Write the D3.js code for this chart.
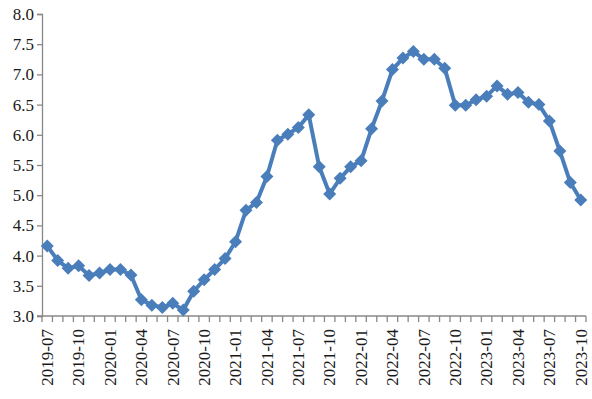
<!DOCTYPE html>
<html><head><meta charset="utf-8">
<script src="https://cdn.jsdelivr.net/npm/d3@7"></script>
<style>body{margin:0;background:#fff}svg{display:block}</style>
</head><body>
<script>
const months = [];
(function(){let y=2019,m=7;for(let i=0;i<52;i++){months.push(y+"-"+String(m).padStart(2,"0"));m++;if(m>12){m=1;y++;}}})();
const values = [4.16,3.92,3.79,3.83,3.67,3.71,3.77,3.77,3.68,3.27,3.18,3.14,3.21,3.10,
  3.41,3.60,3.77,3.95,4.23,4.75,4.88,5.31,5.91,6.01,6.12,6.33,5.47,5.02,
  5.28,5.47,5.57,6.10,6.56,7.08,7.27,7.38,7.25,7.25,7.10,6.49,6.49,
  6.58,6.64,6.81,6.67,6.70,6.54,6.50,6.23,5.73,5.21,4.92];
const yTicks = [3.0,3.5,4.0,4.5,5.0,5.5,6.0,6.5,7.0,7.5,8.0];
const xTickLabels = months.filter((d,i)=>i%3===0);

const W=592,H=399;
const svg=d3.select("body").append("svg").attr("width",W).attr("height",H);
const x=d3.scaleBand().domain(months).range([42,586]);
const y=d3.scaleLinear().domain([3,8]).range([316,14]);
const axisColor="#888";
const font="'Liberation Serif','Times New Roman',serif";

// y axis
const ya=svg.append("g").attr("transform","translate(42,0)")
  .call(d3.axisLeft(y).tickValues(yTicks).tickFormat(d3.format(".1f")).tickSize(5).tickPadding(3));
ya.select(".domain").attr("stroke",axisColor).attr("stroke-width",1.3);
ya.selectAll(".tick line").attr("stroke",axisColor).attr("stroke-width",1.3);
ya.selectAll("text").attr("font-family",font).attr("font-size",17).attr("fill","#1a1a1a");

// x axis
const xa=svg.append("g").attr("transform","translate(0,316)")
  .call(d3.axisBottom(x).tickValues(xTickLabels).tickSize(0).tickPadding(0));
xa.select(".domain").remove();
xa.selectAll("text").attr("font-family",font).attr("font-size",17).attr("fill","#1a1a1a")
  .attr("transform","rotate(-90)").attr("text-anchor","end").attr("dx","-13px").attr("dy","0.34em").attr("x",0).attr("y",0);
svg.append("line").attr("x1",37).attr("x2",586).attr("y1",316).attr("y2",316).attr("stroke",axisColor).attr("stroke-width",1.3);
const bounds=months.map(m=>x(m)).concat([x.range()[1]]);
svg.append("g").selectAll("line").data(bounds).join("line")
  .attr("x1",d=>d).attr("x2",d=>d).attr("y1",316).attr("y2",322).attr("stroke",axisColor).attr("stroke-width",1.3);

// line
const cx=d=>x(d)+x.bandwidth()/2;
const line=d3.line().x((d,i)=>cx(months[i])).y(d=>y(d));
svg.append("path").datum(values).attr("d",line).attr("fill","none").attr("stroke","#4a7ebb").attr("stroke-width",4).attr("stroke-linejoin","round");
const s=6.5;
svg.append("g").selectAll("path").data(values).join("path")
  .attr("transform",(d,i)=>`translate(${cx(months[i])},${y(d)})`)
  .attr("d",`M0,${-s}L${s},0L0,${s}L${-s},0Z`).attr("fill","#4a7ebb");
</script>
</body></html>
